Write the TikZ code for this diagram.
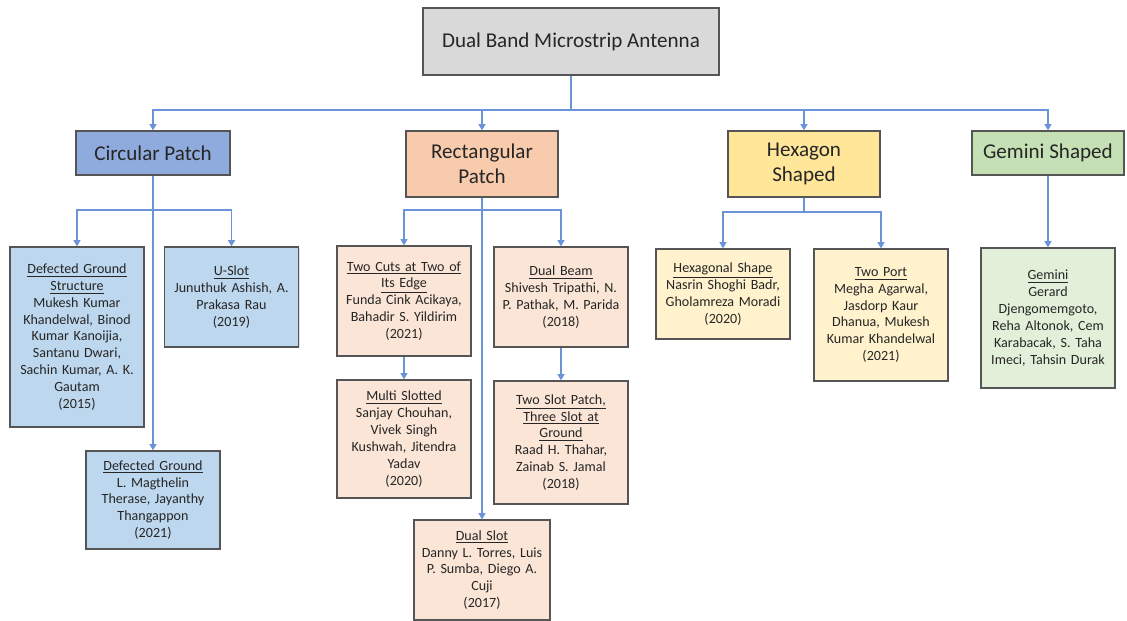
\documentclass[tikz,border=0pt]{standalone}
\usepackage{fontspec}
\setmainfont{Carlito}
\usetikzlibrary{arrows.meta, positioning, shadows}
\definecolor{mtext}{HTML}{262626}
\definecolor{mborder}{HTML}{555555}
\definecolor{mlink}{HTML}{6A93D8}
\definecolor{mroot}{HTML}{D9D9D9}
\definecolor{mcirc}{HTML}{8FAADC}
\definecolor{mcircleaf}{HTML}{BDD7EE}
\definecolor{mrect}{HTML}{F8CBAD}
\definecolor{mrectleaf}{HTML}{FBE5D6}
\definecolor{mhex}{HTML}{FFE699}
\definecolor{mhexleaf}{HTML}{FFF2CC}
\definecolor{mgem}{HTML}{C5E0B4}
\definecolor{mgemleaf}{HTML}{E2F0D9}
\tikzset{
  nbox/.style={draw=mborder, line width=0.8pt, align=center, text=mtext, inner sep=3pt,
               drop shadow={shadow xshift=0.8pt, shadow yshift=-0.8pt, opacity=0.25}},
  headbox/.style={nbox, font=\fontsize{12}{14.2}\selectfont, minimum width=3.04cm},
  leaf/.style={nbox, font=\fontsize{8}{9.6}\selectfont, minimum width=2.68cm, text width=2.46cm},
  arr/.style={-{Triangle[length=3.5pt,width=4pt]}, line width=0.7pt, mlink},
}

\begin{document}
\begin{tikzpicture}[x=0.02cm, y=-0.02cm]
  \useasboundingbox (0,0) rectangle (1127,621);

  %% ── root ──
  \node[headbox, fill=mroot, minimum width=5.92cm, minimum height=1.34cm] (root) at (571,41.5)
    {Dual Band Microstrip Antenna};

  %% ── level 1 ──
  \node[headbox, fill=mcirc, minimum width=3.08cm, minimum height=0.88cm] (circ) at (153,153) {Circular Patch};
  \node[headbox, fill=mrect, minimum height=1.32cm] (rect) at (482,164) {Rectangular\\Patch};
  \node[headbox, fill=mhex, minimum height=1.32cm] (hex) at (804,164) {Hexagon\\Shaped};
  \node[headbox, fill=mgem, minimum height=0.88cm] (gem) at (1048,153) {Gemini Shaped};

  %% ── circular patch ──
  \node[leaf, fill=mcircleaf, minimum height=3.6cm] (dgs) at (77,337)
    {\underline{Defected Ground}\\\underline{Structure}\\Mukesh Kumar\\Khandelwal, Binod\\Kumar Kanoijia,\\Santanu Dwari,\\Sachin Kumar, A. K.\\Gautam\\(2015)};
  \node[leaf, fill=mcircleaf, minimum height=2.0cm] (uslot) at (231.5,297)
    {\underline{U-Slot}\\Junuthuk Ashish, A.\\Prakasa Rau\\(2019)};
  \node[leaf, fill=mcircleaf, minimum height=1.96cm] (dg) at (153,500)
    {\underline{Defected Ground}\\L. Magthelin\\Therase, Jayanthy\\Thangappon\\(2021)};

  %% ── rectangular patch ──
  \node[leaf, fill=mrectleaf, minimum height=2.2cm] (cuts) at (404,301)
    {\underline{Two Cuts at Two of}\\\underline{Its Edge}\\Funda Cink Acikaya,\\Bahadir S. Yildirim\\(2021)};
  \node[leaf, fill=mrectleaf, minimum height=2.36cm] (multi) at (404,439)
    {\underline{Multi Slotted}\\Sanjay Chouhan,\\Vivek Singh\\Kushwah, Jitendra\\Yadav\\(2020)};
  \node[leaf, fill=mrectleaf, minimum height=2.0cm] (beam) at (561,297)
    {\underline{Dual Beam}\\Shivesh Tripathi, N.\\P. Pathak, M. Parida\\(2018)};
  \node[leaf, fill=mrectleaf, minimum height=2.46cm] (twoslot) at (561,442.5)
    {\underline{Two Slot Patch,}\\\underline{Three Slot at}\\\underline{Ground}\\Raad H. Thahar,\\Zainab S. Jamal\\(2018)};
  \node[leaf, fill=mrectleaf, minimum width=2.72cm, minimum height=2.0cm] (dslot) at (482,570)
    {\underline{Dual Slot}\\Danny L. Torres, Luis\\P. Sumba, Diego A.\\Cuji\\(2017)};

  %% ── hexagon shaped ──
  \node[leaf, fill=mhexleaf, minimum height=1.8cm] (hexs) at (723,294)
    {\underline{Hexagonal Shape}\\Nasrin Shoghi Badr,\\Gholamreza Moradi\\(2020)};
  \node[leaf, fill=mhexleaf, minimum height=2.64cm] (port) at (881,315)
    {\underline{Two Port}\\Megha Agarwal,\\Jasdorp Kaur\\Dhanua, Mukesh\\Kumar Khandelwal\\(2021)};

  %% ── gemini shaped ──
  \node[leaf, fill=mgemleaf, minimum height=2.8cm] (gemini) at (1048,318)
    {\underline{Gemini}\\Gerard\\Djengomemgoto,\\Reha Altonok, Cem\\Karabacak, S. Taha\\Imeci, Tahsin Durak\\[22pt]};

  %% ── connectors ──
  \coordinate (b0) at (571,110);
  \foreach \n in {circ,rect,hex,gem}{
    \draw[arr] (root.south) -- (b0) -| (\n.north);
  }
  \coordinate (b1) at (153,210);
  \draw[arr] (circ.south) -- (dg.north);
  \foreach \n in {dgs,uslot}{
    \draw[arr] (b1) -| (\n.north);
  }
  \coordinate (b2) at (482,210);
  \draw[arr] (rect.south) -- (dslot.north);
  \foreach \n in {cuts,beam}{
    \draw[arr] (b2) -| (\n.north);
  }
  \draw[arr] (cuts.south) -- (multi.north);
  \draw[arr] (beam.south) -- (twoslot.north);
  \coordinate (b3) at (804,212);
  \foreach \n in {hexs,port}{
    \draw[arr] (hex.south) -- (b3) -| (\n.north);
  }
  \draw[arr] (gem.south) -- (gemini.north);
\end{tikzpicture}
\end{document}
